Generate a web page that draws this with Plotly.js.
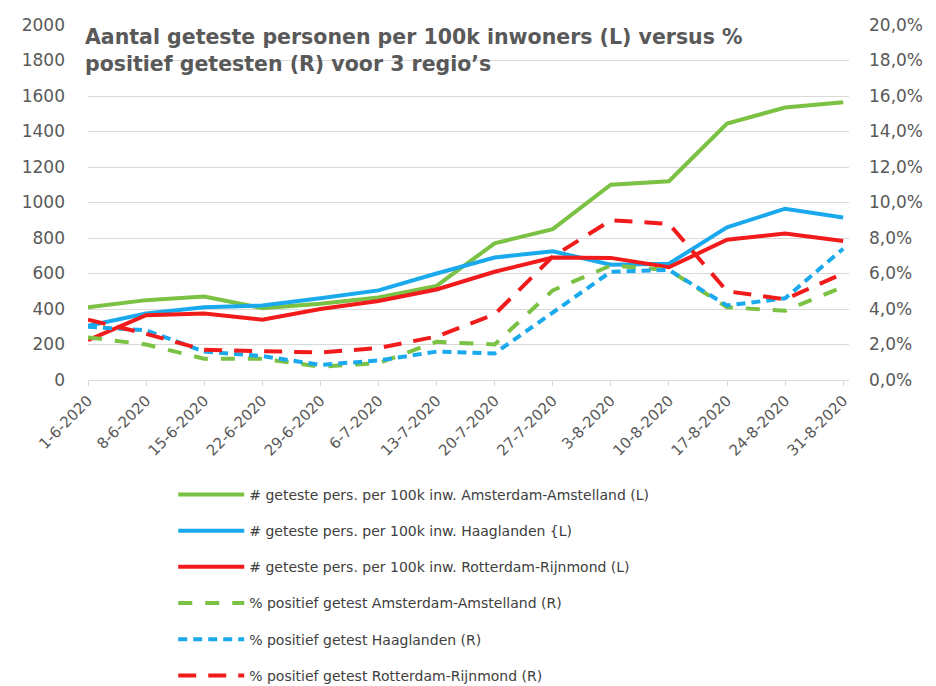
<!DOCTYPE html>
<html>
<head>
<meta charset="utf-8">
<script src="https://cdn.plot.ly/plotly-3.0.1.min.js"></script>
<style>html,body{margin:0;padding:0;background:#fff;}#chart{width:936px;height:686px;}</style>
</head>
<body>
<div id="chart"></div>
<script>
const dates = ['1-6-2020','8-6-2020','15-6-2020','22-6-2020','29-6-2020','6-7-2020','13-7-2020','20-7-2020','27-7-2020','3-8-2020','10-8-2020','17-8-2020','24-8-2020','31-8-2020'];
const amsTested = [410, 450, 470, 405, 430, 465, 530, 770, 850, 1100, 1120, 1445, 1535, 1565];
const haagTested = [305, 375, 410, 420, 460, 505, 600, 690, 725, 650, 655, 860, 965, 915];
const rotTested = [225, 365, 375, 340, 400, 445, 510, 610, 690, 688, 635, 790, 825, 783];
const amsPos = [2.4, 2.0, 1.2, 1.2, 0.75, 0.95, 2.15, 2.0, 5.05, 6.45, 6.2, 4.1, 3.9, 5.25];
const haagPos = [3.0, 2.8, 1.6, 1.35, 0.85, 1.1, 1.6, 1.5, 3.8, 6.1, 6.2, 4.2, 4.6, 7.4];
const rotPos = [3.4, 2.6, 1.7, 1.65, 1.55, 1.8, 2.45, 3.7, 6.95, 9.0, 8.8, 5.0, 4.55, 6.0];
const names = [
  '# geteste pers. per 100k inw. Amsterdam-Amstelland (L)',
  '# geteste pers. per 100k inw. Haaglanden {L)',
  '# geteste pers. per 100k inw. Rotterdam-Rijnmond (L)',
  '% positief getest Amsterdam-Amstelland (R)',
  '% positief getest Haaglanden (R)',
  '% positief getest Rotterdam-Rijnmond (R)'
];
const green = '#7bc143', blue = '#1aa9ec', red = '#f21b1b';
const idx = dates.map((d, i) => i);
function tr(y, name, color, dash, axis, g) {
  return {x: idx, y: y, name: name, type: 'scatter', mode: 'lines', yaxis: axis,
    legendgroup: g, hoverinfo: 'skip',
    line: {color: color, width: 4, dash: dash}};
}
const data = [
  tr(amsTested, names[0], green, 'solid', 'y', 'a'),
  tr(haagTested, names[1], blue, 'solid', 'y', 'b'),
  tr(rotTested, names[2], red, 'solid', 'y', 'c'),
  tr(amsPos, names[3], green, '14px,13px', 'y2', 'd'),
  tr(haagPos, names[4], blue, '9px,6px', 'y2', 'e'),
  tr(rotPos, names[5], red, '18px,12px', 'y2', 'f')
];
const FONT = '"DejaVu Sans", Verdana, sans-serif';
const layout = {
  width: 936, height: 686,
  margin: {l: 88, r: 87, t: 25, b: 306},
  paper_bgcolor: '#fff', plot_bgcolor: '#fff',
  font: {family: FONT, color: '#595959', size: 15},
  separators: ',.',
  showlegend: true,
  legend: {x: 0.112, y: 0.302, xref: 'paper', yref: 'container', xanchor: 'left', yanchor: 'top', tracegroupgap: 15,
    font: {size: 14, color: '#404040', family: FONT}, itemwidth: 66, bgcolor: 'rgba(0,0,0,0)'},
  xaxis: {range: [0, 13.1], tickvals: idx, ticktext: dates, tickangle: -45, automargin: false,
    showgrid: false, zeroline: false, showline: true, linecolor: '#d9d9d9', linewidth: 1,
    ticks: 'outside', ticklen: 5, tickcolor: '#d9d9d9',
    tickfont: {size: 15, color: '#595959'}},
  yaxis: {range: [0, 2000], dtick: 200, tick0: 0, showgrid: true, gridcolor: '#d9d9d9', gridwidth: 1,
    zeroline: false, showline: false, ticks: '', ticklabelstandoff: 22, automargin: false,
    tickfont: {size: 17, color: '#595959'}},
  yaxis2: {range: [0, 20], dtick: 2, tick0: 0, overlaying: 'y', side: 'right', showgrid: false,
    zeroline: false, showline: false, ticks: '', tickformat: '.1f', ticksuffix: '%', ticklabelstandoff: 19, automargin: false,
    tickfont: {size: 17, color: '#595959'}},
  annotations: [{
    xref: 'paper', yref: 'paper', x: -0.006, y: 1.005, xanchor: 'left', yanchor: 'top', align: 'left',
    showarrow: false,
    text: '<b>Aantal geteste personen per 100k inwoners (L) versus %<br>positief getesten (R) voor 3 regio’s</b>',
    font: {size: 20.5, color: '#595959', family: FONT}
  }]
};
Plotly.newPlot('chart', data, layout, {displayModeBar: false, staticPlot: true});
</script>
</body>
</html>
